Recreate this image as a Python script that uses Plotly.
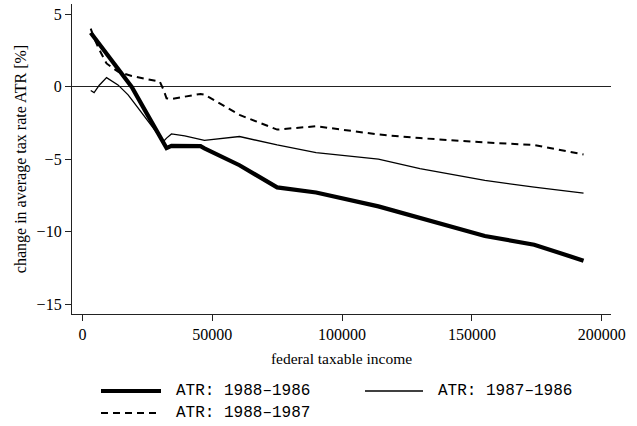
import plotly.graph_objects as go

# data
income = [3200, 4500, 6500, 9300, 13700, 17600, 19000, 24000, 29800, 31200, 32400,
          34300, 39400, 45500, 47000, 60500, 75000, 90000, 114000, 130000, 155000,
          174000, 193000]
atr_88_86 = [3.72, 3.41, 2.94, 2.28, 1.24, 0.31, -0.02, -1.6, -3.4, -3.85, -4.24,
             -4.08, -4.08, -4.1, -4.25, -5.42, -6.95, -7.3, -8.26, -9.05, -10.3,
             -10.9, -12.0]
atr_87_86 = [-0.27, -0.41, 0.1, 0.62, 0.12, -0.57, -0.9, -2.1, -3.45, -3.78, -3.55,
             -3.26, -3.4, -3.6, -3.7, -3.44, -4.02, -4.55, -5.0, -5.65, -6.47,
             -6.93, -7.34]
atr_88_87 = [4.0, 3.35, 2.55, 1.6, 1.03, 0.8, 0.74, 0.55, 0.35, -0.2, -0.8,
             -0.85, -0.69, -0.5, -0.55, -1.95, -2.96, -2.73, -3.3, -3.55, -3.85,
             -4.02, -4.68]

series_names = ["ATR: 1988\u20131986", "ATR: 1987\u20131986", "ATR: 1988\u20131987"]
x_ticks = [0, 50000, 100000, 150000, 200000]
x_tick_labels = ["0", "50000", "100000", "150000", "200000"]
y_ticks = [-15, -10, -5, 0, 5]
y_tick_labels = ["\u221215", "\u221210", "\u22125", "0", "5"]

W, H = 637, 426
L, R, T, B = 72, 26, 4, 112

serif = "Liberation Serif"
mono = "Liberation Mono"

styles = [dict(width=4.2, dash="solid"),
          dict(width=1.3, dash="solid"),
          dict(width=2.0, dash="7px,5px")]
values = [atr_88_86, atr_87_86, atr_88_87]

fig = go.Figure()
for name, vals, st in zip(series_names, values, styles):
    fig.add_trace(go.Scatter(x=income, y=vals, mode="lines", name=name,
                             line=dict(color="black", width=st["width"], dash=st["dash"]),
                             showlegend=False))

# manual legend (Stata-style: 2 columns, long samples)
def px2paper_x(px):
    return (px - L) / (W - L - R)

def px2paper_y(py):
    return 1 - (py - T) / (H - T - B)

legend_pos = [(101, 161, 391), (365, 423, 391), (101, 161, 413)]
for (x0, x1, yy), name, st in zip(legend_pos, series_names, styles):
    fig.add_shape(type="line", xref="paper", yref="paper",
                  x0=px2paper_x(x0), x1=px2paper_x(x1),
                  y0=px2paper_y(yy), y1=px2paper_y(yy),
                  line=dict(color="black", width=st["width"], dash=st["dash"]))
    fig.add_annotation(xref="paper", yref="paper", x=px2paper_x(x1 + 13), y=px2paper_y(yy),
                       xanchor="left", yanchor="middle", text=name, showarrow=False,
                       font=dict(family=mono, size=16, color="black"))

fig.update_layout(
    width=W, height=H,
    margin=dict(l=L, r=R, t=T, b=B, autoexpand=False),
    paper_bgcolor="white", plot_bgcolor="white",
    font=dict(family=serif, size=15, color="black"),
    xaxis=dict(range=[-4008, 203580], tickvals=x_ticks, ticktext=x_tick_labels,
               showline=True, linecolor="#222", linewidth=1.3,
               ticks="outside", ticklen=6, tickcolor="#222", tickwidth=1,
               showgrid=False, zeroline=False, automargin=False,
               title=dict(text="federal taxable income", standoff=10,
                          font=dict(family=serif, size=15.5, color="black")),
               tickfont=dict(family=serif, size=16, color="black")),
    yaxis=dict(range=[-15.68, 5.70], tickvals=y_ticks, ticktext=y_tick_labels,
               showline=True, linecolor="#222", linewidth=1.3,
               ticks="outside", ticklen=6, tickcolor="#222", tickwidth=1,
               showgrid=False, zeroline=True, zerolinecolor="#222", zerolinewidth=1.2,
               automargin=False,
               title=dict(text="change in average tax rate ATR [%]", standoff=6,
                          font=dict(family=serif, size=16, color="black")),
               tickfont=dict(family=serif, size=16, color="black")),
)

# remove the default 8px page margin so the figure sits at the window's top-left
fig.write_html("out.html", config={"displayModeBar": False},
               post_script="document.body.style.margin='0';")
